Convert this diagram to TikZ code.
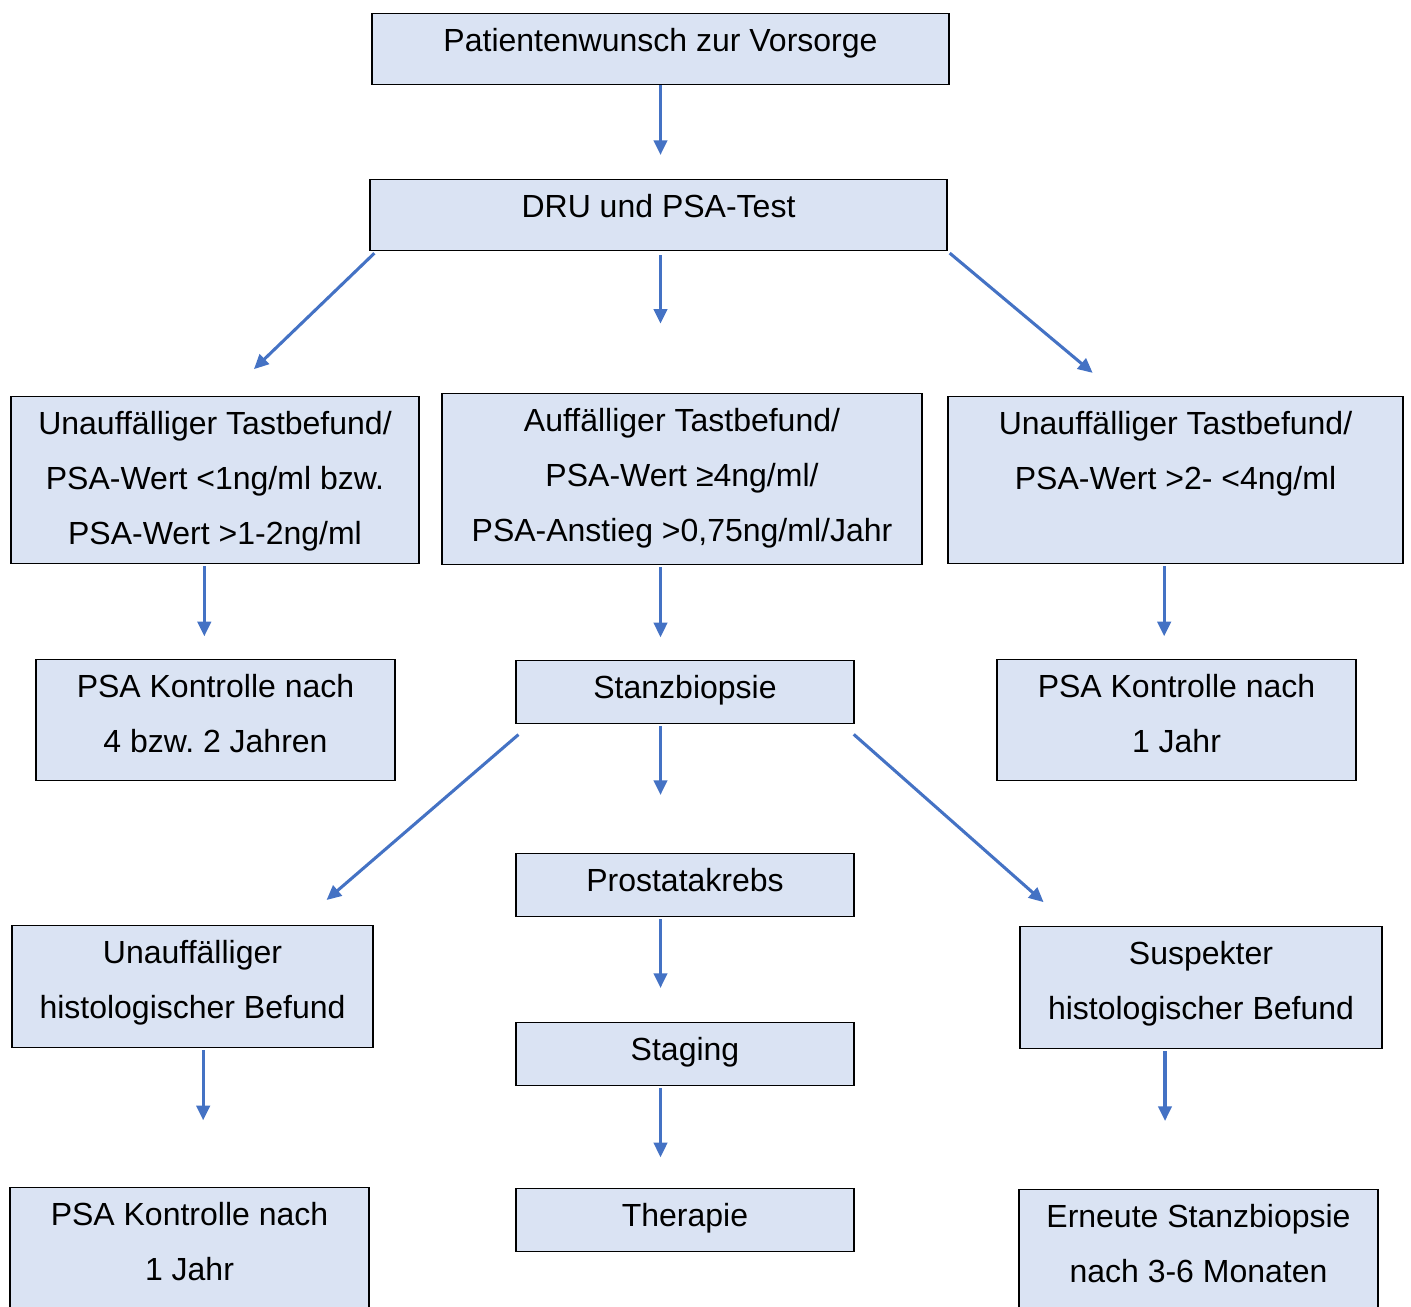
\documentclass[tikz,border=0pt]{standalone}
\usepackage{fontspec}
\setmainfont{Liberation Sans}
\usepackage{xcolor}
\usetikzlibrary{arrows.meta, calc}
\frenchspacing
\definecolor{boxblue}{HTML}{DAE3F3}
\definecolor{arrowblue}{HTML}{4472C4}
\newcommand{\tstrut}{\rule{0pt}{28pt}}
\tikzstyle{box} = [rectangle, anchor=north, draw=black, line width=1pt, fill=boxblue, inner sep=0pt, align=center, font=\fontsize{24}{41.25}\selectfont]
\tikzstyle{arrow} = [line width=2.3pt, -{Triangle[width=10pt,length=11pt]}, draw=arrowblue]
\tikzset{bpad/.style={execute at end node={\rule[-#1]{0pt}{#1}}}}

\begin{document}
\begin{tikzpicture}[x=0.75pt, y=-0.75pt]
    \path[use as bounding box] (0,0) rectangle (1411,1307);
    \clip (0,0) rectangle (1411,1307);

    \node (wish) [box, minimum width=432.75pt, bpad=25.3pt] at (660.5,13) {\tstrut Patientenwunsch zur Vorsorge};
    \node (test) [box, minimum width=432.75pt, bpad=25.3pt] at (658.5,179) {\tstrut DRU und PSA-Test};

    \node (lowpsa) [box, minimum width=306pt, bpad=14.8pt] at (215,396) {\tstrut Unauffälliger Tastbefund/\\PSA-Wert <1ng/ml bzw.\\PSA-Wert >1-2ng/ml};
    \node (highpsa) [box, minimum width=360pt, bpad=17.8pt] at (682,393) {\tstrut Auffälliger Tastbefund/\\PSA-Wert ≥4ng/ml/\\PSA-Anstieg >0,75ng/ml/Jahr};
    \node (midpsa) [box, minimum width=341.25pt, bpad=56pt] at (1175.5,396) {\tstrut Unauffälliger Tastbefund/\\PSA-Wert >2- <4ng/ml};

    \node (ctrlfour) [box, minimum width=269.25pt, bpad=21.5pt] at (215.5,659) {\tstrut PSA Kontrolle nach\\4 bzw. 2 Jahren};
    \node (biopsy) [box, minimum width=253.5pt, bpad=19.3pt] at (685,660) {\tstrut Stanzbiopsie};
    \node (ctrlone) [box, minimum width=269.25pt, bpad=21.5pt] at (1176.5,659) {\tstrut PSA Kontrolle nach\\1 Jahr};

    \node (cancer) [box, minimum width=253.5pt, bpad=19.3pt] at (685,853) {\tstrut Prostatakrebs};
    \node (benign) [box, minimum width=270.75pt, bpad=22.3pt] at (192.5,925) {\tstrut Unauffälliger\\histologischer Befund};
    \node (suspect) [box, minimum width=271.5pt, bpad=22.3pt] at (1201,926) {\tstrut Suspekter\\histologischer Befund};
    \node (staging) [box, minimum width=253.5pt, bpad=19.3pt] at (685,1022) {\tstrut Staging};

    \node (therapy) [box, minimum width=253.5pt, bpad=19.3pt] at (685,1188) {\tstrut Therapie};
    \node (ctrlyear) [box, minimum width=269.25pt, bpad=22.3pt] at (189.5,1187) {\tstrut PSA Kontrolle nach\\1 Jahr};
    \node (rebiopsy) [box, minimum width=269.25pt, bpad=22.3pt] at (1198.5,1189) {\tstrut Erneute Stanzbiopsie\\nach 3-6 Monaten};

    \draw [arrow, shorten >=18pt] (wish.south) -- (wish.south |- test.north);
    \draw [arrow, shorten <=3pt, shorten >=52pt] (wish.south |- test.south) -- (wish.south |- highpsa.north);
    \draw [arrow, shorten <=2pt, shorten >=29pt] ($(test.south west)!0.012!(test.south east)$) -- ($(lowpsa.north west)!0.527!(lowpsa.north east)$);
    \draw [arrow, shorten <=2pt, shorten >=27pt] (test.south east) -- ($(midpsa.north west)!0.379!(midpsa.north east)$);

    \draw [arrow, shorten <=1.5pt, shorten >=17pt] ([xshift=-8pt]lowpsa.south) -- ([xshift=-8pt]lowpsa.south |- ctrlfour.north);
    \draw [arrow, shorten <=1.5pt, shorten >=17pt] (wish.south |- highpsa.south) -- (wish.south |- biopsy.north);
    \draw [arrow, shorten <=1.5pt, shorten >=17pt] ([xshift=-8.5pt]midpsa.south) -- ([xshift=-8.5pt]midpsa.south |- ctrlone.north);

    \draw [arrow, shorten <=11.7pt, shorten >=28.7pt] ($(biopsy.south west)!0.044!(biopsy.south east)$) -- ($(benign.north west)!0.79!(benign.north east)$);
    \draw [arrow, shorten <=1.5pt, shorten >=43.5pt] (wish.south |- biopsy.south) -- (wish.south |- cancer.north);
    \draw [arrow, shorten <=11.3pt, shorten >=27pt] ($(biopsy.south west)!0.964!(biopsy.south east)$) -- ($(suspect.north west)!0.141!(suspect.north east)$);

    \draw [arrow, shorten <=1.5pt, shorten >=25.5pt] (wish.south |- cancer.south) -- (wish.south |- staging.north);
    \draw [arrow, shorten <=1.5pt, shorten >=23pt] (wish.south |- staging.south) -- (wish.south |- therapy.north);
    \draw [arrow, shorten <=1.5pt, shorten >=50pt] ([xshift=8pt]benign.south) -- ([xshift=8pt]benign.south |- ctrlyear.north);
    \draw [arrow, shorten <=1.5pt, shorten >=51pt] ([xshift=-27pt]suspect.south) -- ([xshift=-27pt]suspect.south |- rebiopsy.north);
\end{tikzpicture}
\end{document}
